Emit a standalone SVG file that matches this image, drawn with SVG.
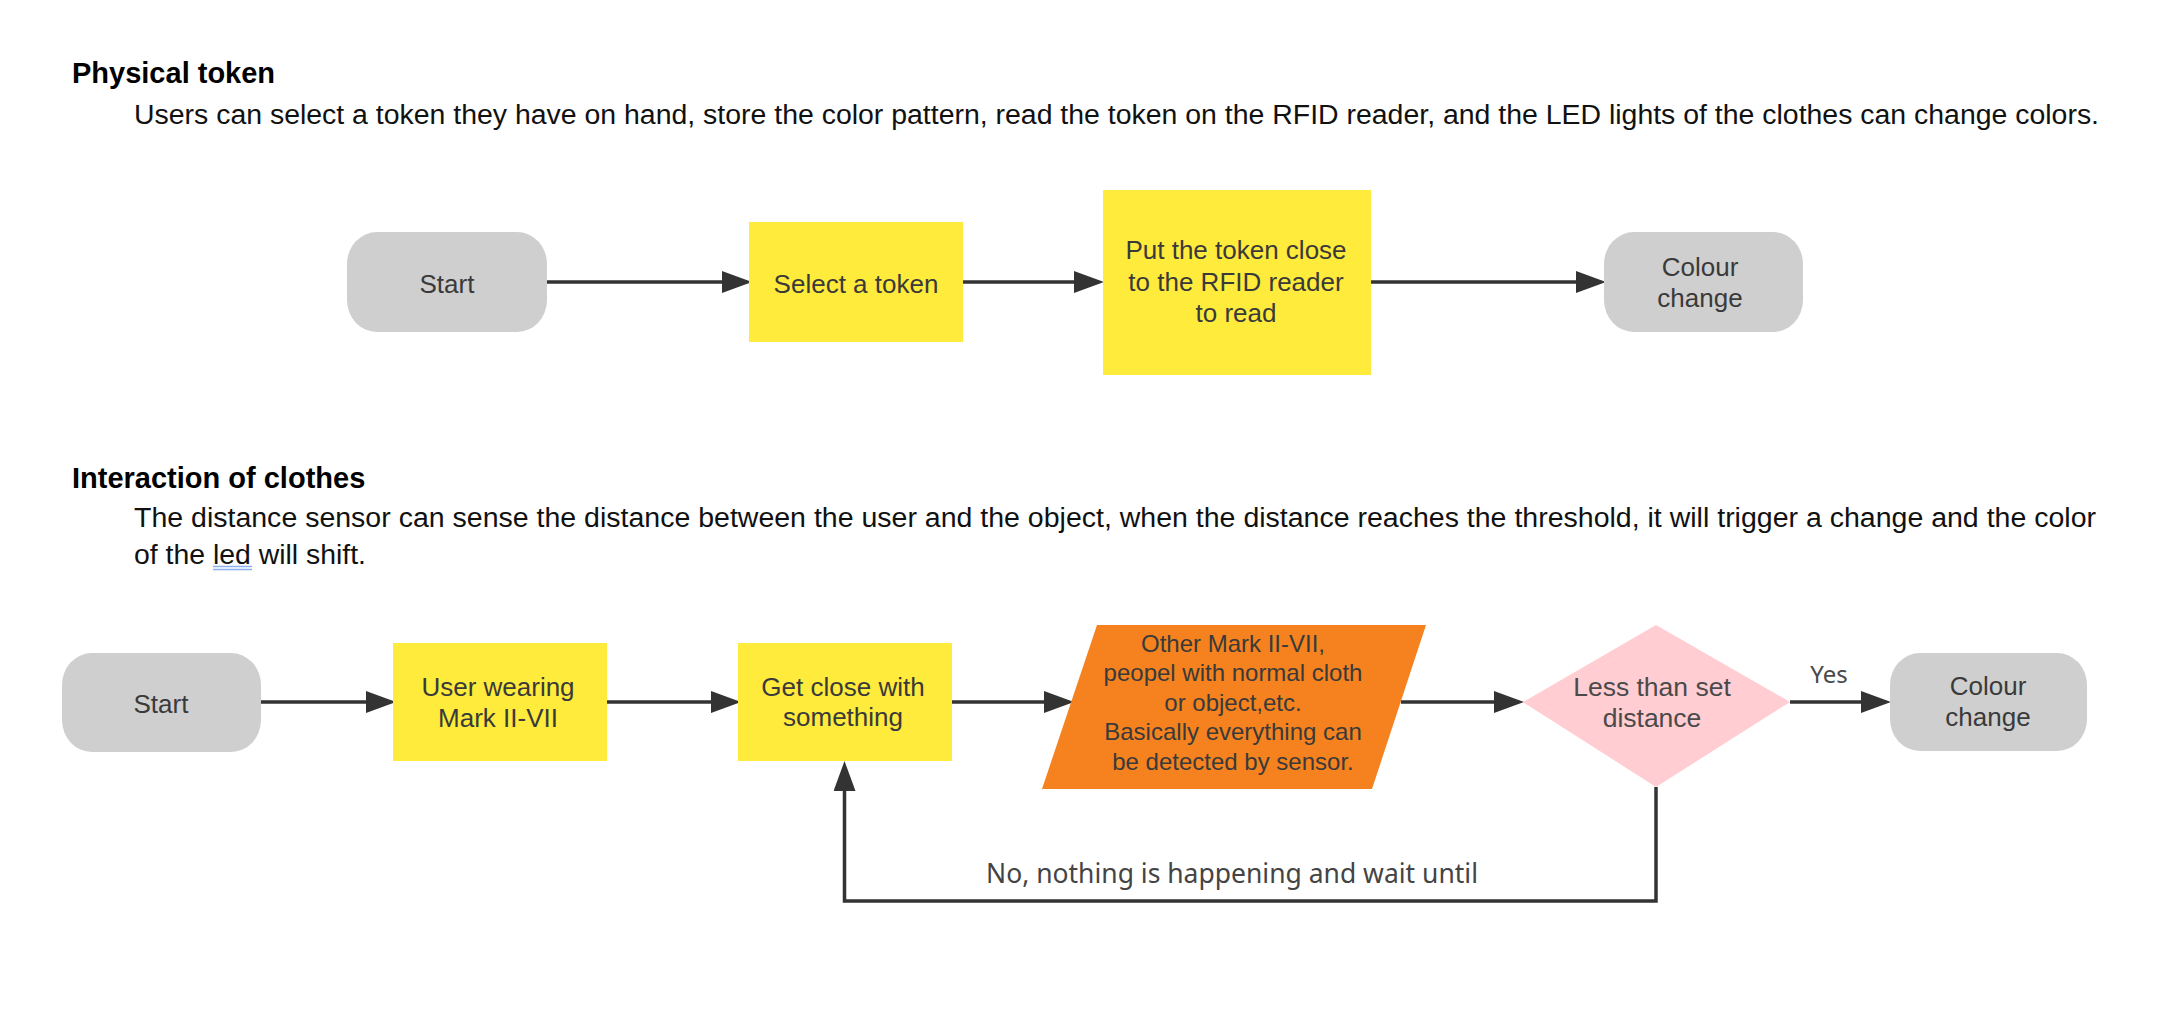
<svg xmlns="http://www.w3.org/2000/svg" width="2168" height="1021" viewBox="0 0 2168 1021">
<style>
.h{font-family:"Liberation Sans",Arial,sans-serif;font-weight:bold;font-size:29px;fill:#000}
.d{font-family:"Liberation Sans",Arial,sans-serif;font-size:28.4px;fill:#111}
.t{font-family:"Liberation Sans",Arial,sans-serif;font-size:26px;fill:#3a3a3a;text-anchor:middle}
.tp{font-family:"Liberation Sans",Arial,sans-serif;font-size:24px;fill:#3a3a3a;text-anchor:middle}
.td{font-family:"Liberation Sans",Arial,sans-serif;font-size:26.5px;fill:#4a4a4a;text-anchor:middle}
.ty{font-family:"Noto Sans","Open Sans",sans-serif;font-size:24px;fill:#4a4a4a;text-anchor:middle}
.lb{font-family:"Noto Sans","Open Sans",sans-serif;font-size:27px;fill:#444}
.term{fill:#cfcfcf}
.proc{fill:#ffeb3b}
.io{fill:#f5821f}
.dec{fill:#ffcdd2}
.c{fill:none;stroke:#333;stroke-width:3.5}
</style>
<defs>
<marker id="ah" markerUnits="userSpaceOnUse" markerWidth="30" markerHeight="22" refX="20" refY="11" orient="auto">
<path d="M0,0 L30,11 L0,22 Z" fill="#333"/>
</marker>
</defs>
<rect width="2168" height="1021" fill="#fff"/>

<text class="h" x="72" y="83">Physical token</text>
<text class="d" x="134" y="124" textLength="1965" lengthAdjust="spacingAndGlyphs">Users can select a token they have on hand, store the color pattern, read the token on the RFID reader, and the LED lights of the clothes can change colors.</text>

<text class="h" x="72" y="488">Interaction of clothes</text>
<text class="d" x="134" y="527" textLength="1962" lengthAdjust="spacingAndGlyphs">The distance sensor can sense the distance between the user and the object, when the distance reaches the threshold, it will trigger a change and the color</text>
<text class="d" x="134" y="564">of the led will shift.</text>
<line x1="213" y1="566.5" x2="252" y2="566.5" stroke="#8ab0ee" stroke-width="1.3"/>
<line x1="213" y1="569.5" x2="252" y2="569.5" stroke="#8ab0ee" stroke-width="1.3"/>

<g id="connectors">
<line class="c" x1="547" y1="282" x2="742" y2="282" marker-end="url(#ah)"/>
<line class="c" x1="963" y1="282" x2="1094" y2="282" marker-end="url(#ah)"/>
<line class="c" x1="1371" y1="282" x2="1596" y2="282" marker-end="url(#ah)"/>
<line class="c" x1="261" y1="702" x2="386" y2="702" marker-end="url(#ah)"/>
<line class="c" x1="607" y1="702" x2="731" y2="702" marker-end="url(#ah)"/>
<line class="c" x1="952" y1="702" x2="1064" y2="702" marker-end="url(#ah)"/>
<line class="c" x1="1401" y1="702" x2="1514" y2="702" marker-end="url(#ah)"/>
<line class="c" x1="1790" y1="702" x2="1881" y2="702" marker-end="url(#ah)"/>
<path class="c" d="M1656,787 V901 H844.5 V771" marker-end="url(#ah)"/>
<text class="ty" x="1829" y="683">Yes</text>
<text class="lb" x="986" y="883" textLength="492" lengthAdjust="spacingAndGlyphs">No, nothing is happening and wait until</text>
</g>

<g id="start1">
<rect class="term" x="347" y="232" width="200" height="100" rx="30" ry="32"/>
<text class="t" x="447" y="293">Start</text>
</g>
<g id="select-token">
<rect class="proc" x="749" y="222" width="214" height="120"/>
<text class="t" x="856" y="293">Select a token</text>
</g>
<g id="put-token">
<rect class="proc" x="1103" y="190" width="268" height="185"/>
<text class="t" x="1236" y="259">Put the token close</text>
<text class="t" x="1236" y="291">to the RFID reader</text>
<text class="t" x="1236" y="322">to read</text>
</g>
<g id="colour1">
<rect class="term" x="1604" y="232" width="199" height="100" rx="30" ry="32"/>
<text class="t" x="1700" y="276">Colour</text>
<text class="t" x="1700" y="307">change</text>
</g>

<g id="start2">
<rect class="term" x="62" y="653" width="199" height="99" rx="30" ry="32"/>
<text class="t" x="161" y="713">Start</text>
</g>
<g id="user-wearing">
<rect class="proc" x="393" y="643" width="214" height="118"/>
<text class="t" x="498" y="696">User wearing</text>
<text class="t" x="498" y="727">Mark II-VII</text>
</g>
<g id="get-close">
<rect class="proc" x="738" y="643" width="214" height="118"/>
<text class="t" x="843" y="696">Get close with</text>
<text class="t" x="843" y="726">something</text>
</g>
<g id="others">
<polygon class="io" points="1097,625 1426,625 1372,789 1042,789"/>
<text class="tp" x="1233" y="652">Other Mark II-VII,</text>
<text class="tp" x="1233" y="681">peopel with normal cloth</text>
<text class="tp" x="1233" y="711">or object,etc.</text>
<text class="tp" x="1233" y="740">Basically everything can</text>
<text class="tp" x="1233" y="770">be detected by sensor.</text>
</g>
<g id="decision">
<polygon class="dec" points="1656,625 1790,702 1656,787 1523,702"/>
<text class="td" x="1652" y="696">Less than set</text>
<text class="td" x="1652" y="727">distance</text>
</g>
<g id="colour2">
<rect class="term" x="1890" y="653" width="197" height="98" rx="30" ry="32"/>
<text class="t" x="1988" y="695">Colour</text>
<text class="t" x="1988" y="726">change</text>
</g>
</svg>
